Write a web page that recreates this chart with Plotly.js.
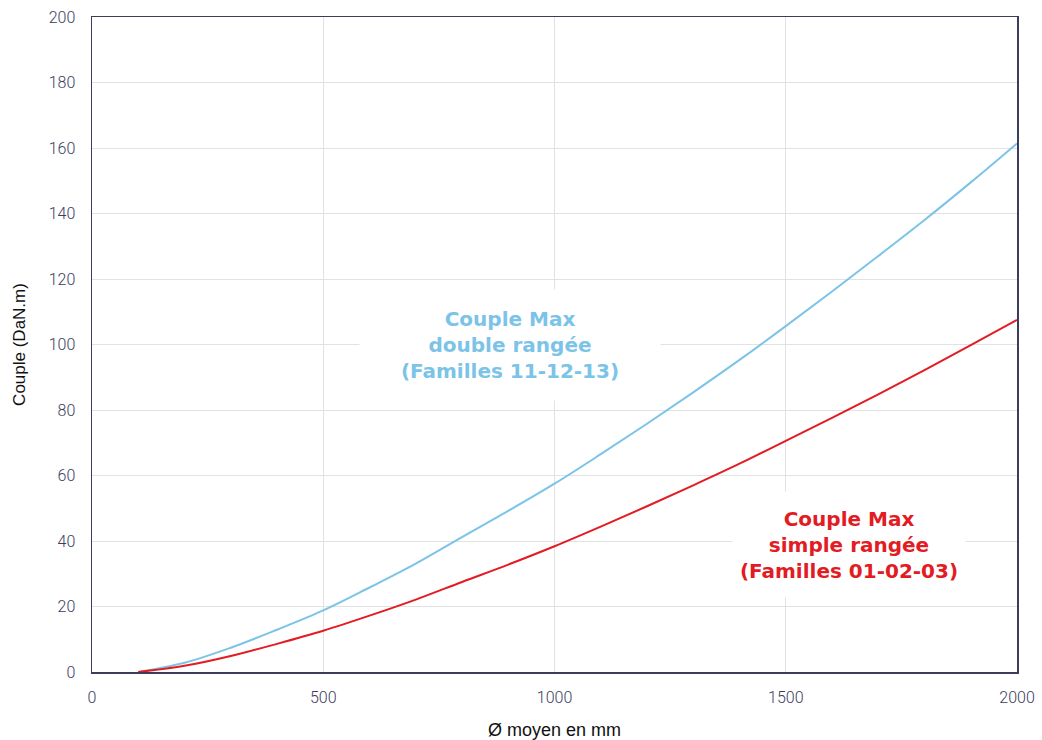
<!DOCTYPE html>
<html>
<head>
<meta charset="utf-8">
<script src="https://cdn.plot.ly/plotly-3.0.1.min.js"></script>
<style>html,body{margin:0;padding:0;background:#fff;}#chart{width:1042px;height:740px;}</style>
</head>
<body>
<div id="chart"></div>
<script>
// Diamètre moyen (mm)
const diametre = [100, 200, 300, 400, 500, 600, 700, 800, 900, 1000, 1100, 1200, 1300, 1400, 1500, 1600, 1700, 1800, 1900, 2000];
// Couple Max simple rangée (Familles 01-02-03), DaN.m
const coupleSimple = [0, 1.9, 4.9, 8.6, 12.6, 17.2, 22.1, 27.5, 32.8, 38.4, 44.4, 50.6, 57.0, 63.6, 70.6, 77.6, 84.8, 92.2, 99.8, 107.5];
// Couple Max double rangée (Familles 11-12-13), DaN.m
const coupleDouble = [0, 2.8, 7.4, 12.9, 18.8, 25.8, 33.1, 41.2, 49.2, 57.5, 66.5, 75.8, 85.4, 95.3, 105.6, 116.2, 127.0, 138.0, 149.5, 161.4];

const labelDouble = "<b>Couple Max<br>double rangée<br>(Familles 11-12-13)</b>";
const labelSimple = "<b>Couple Max<br>simple rangée<br>(Familles 01-02-03)</b>";

const blue = "#7cc3e8";
const red = "#e31b23";
const axisCol = "#3c3c5c";

const traces = [
  {x: diametre, y: coupleDouble, type: "scatter", mode: "lines",
   line: {color: blue, width: 2, shape: "spline"}, hoverinfo: "x+y", showlegend: false},
  {x: diametre, y: coupleSimple, type: "scatter", mode: "lines",
   line: {color: red, width: 2, shape: "spline"}, hoverinfo: "x+y", showlegend: false}
];

const layout = {
  width: 1042, height: 740,
  margin: {l: 92, r: 25, t: 17, b: 68},
  paper_bgcolor: "#fff", plot_bgcolor: "#fff",
  showlegend: false,
  xaxis: {
    range: [0, 2000], tickvals: [0, 500, 1000, 1500, 2000],
    showgrid: true, gridcolor: "#e2e2e2", gridwidth: 1, zeroline: false,
    showline: true, linecolor: axisCol, linewidth: 1.5, mirror: true,
    ticks: "", ticklabelstandoff: 10,
    tickfont: {family: "Roboto", size: 16, color: axisCol, weight: 300},
    title: {text: "Ø moyen en mm", standoff: 20, font: {family: "Liberation Sans, Arial", size: 18, color: "#111"}}
  },
  yaxis: {
    range: [0, 200], dtick: 20, tick0: 0,
    showgrid: true, gridcolor: "#e2e2e2", gridwidth: 1, zeroline: false,
    showline: true, linecolor: axisCol, linewidth: 1.5, mirror: true,
    ticks: "", ticklabelstandoff: 12,
    tickfont: {family: "Roboto", size: 16, color: axisCol, weight: 300},
    title: {text: "Couple (DaN.m)", standoff: 18, font: {family: "Liberation Sans, Arial", size: 17, color: "#111"}}
  },
  annotations: [
    {x: 904, y: 99.8, xref: "x", yref: "y", text: labelDouble, showarrow: false,
     font: {family: "DejaVu Sans", size: 20, color: blue}, align: "center",
     bgcolor: "#fff", borderpad: 0, width: 300, height: 110},
    {x: 1637, y: 38.8, xref: "x", yref: "y", text: labelSimple, showarrow: false,
     font: {family: "DejaVu Sans", size: 20, color: red}, align: "center",
     bgcolor: "#fff", borderpad: 0, width: 232, height: 105}
  ]
};

Plotly.newPlot("chart", traces, layout, {displayModeBar: false, staticPlot: true});
</script>
</body>
</html>
